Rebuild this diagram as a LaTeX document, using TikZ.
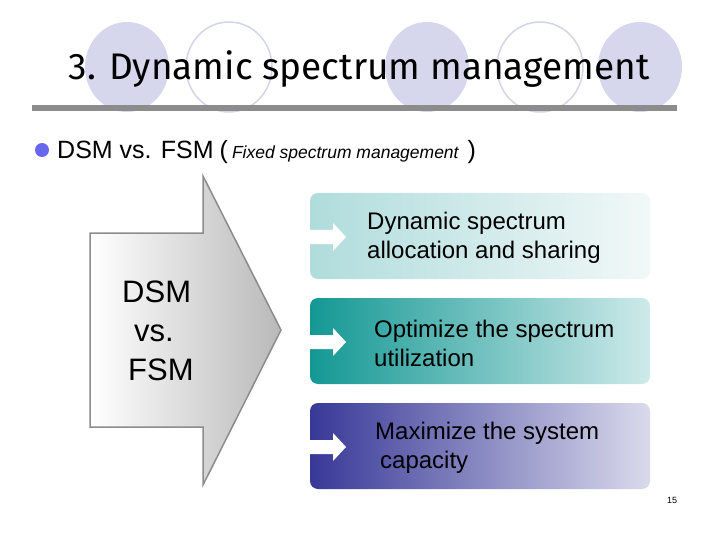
\documentclass[tikz,border=0pt]{standalone}
\usepackage{fontspec}
\setmainfont{Liberation Sans}
\newfontfamily\titlefont{Fira Sans}
\usetikzlibrary{positioning}

\definecolor{lavender}{RGB}{214,214,236}
\definecolor{ringline}{RGB}{212,212,232}
\definecolor{barGray}{RGB}{140,140,140}
\definecolor{bulletBlue}{RGB}{102,102,238}
\definecolor{tealA}{RGB}{176,220,220}
\definecolor{tealB}{RGB}{242,248,248}
\definecolor{tealC}{RGB}{20,152,148}
\definecolor{tealD}{RGB}{206,234,234}
\definecolor{navyA}{RGB}{56,56,152}
\definecolor{navyB}{RGB}{218,218,236}

\tikzset{
  ring/.style={draw=ringline, line width=1.5pt},
  itembox/.style={rounded corners=8pt},
  itemtext/.style={anchor=west, align=left, font=\fontsize{24}{29}\selectfont, inner sep=0pt},
}

\begin{document}
\begin{tikzpicture}[x=1pt,y=-1pt]
  \useasboundingbox (0,0) rectangle (720,540);
  \def\bx{310}
  \def\bw{340}
  \def\bh{86}

  % Title circles
  \foreach \cx in {127,427,640} {
    \fill[lavender] (\cx,67) ellipse (42 and 45);
  }
  \foreach \cx in {229,540} {
    \draw[ring] (\cx,67) ellipse (43 and 45);
  }

  % Title and rule
  \node[font=\titlefont\fontsize{37}{40}\selectfont, anchor=base] (title) at (359,80) {3. Dynamic spectrum management};
  \fill[barGray] (32,105) rectangle (677,111);

  % Bullet line
  \fill[bulletBlue] (42,150) circle (7);
  \node[anchor=base west, font=\fontsize{25}{27}\selectfont, inner sep=0pt] (sub) at (57,159)
    {DSM vs. FSM\hspace{6pt}(\hspace{4pt}{\fontsize{17.5}{18}\selectfont\itshape Fixed spectrum management}\hspace{9pt})};

  % Big arrow
  \shade[left color=white, right color=gray!55, draw=gray!90, line width=1.5pt]
    (90,233) -- (203,233) -- (203,176) -- (281,330) -- (203,485) -- (203,427) -- (90,427) -- cycle;
  \node[align=left, anchor=west, inner sep=0pt, font=\fontsize{31}{39}\selectfont] (dsm) at (122,331)
    {DSM\\\hspace{12pt}vs.\\\hspace{6pt}FSM};

  % Item boxes
  \shade[itembox, left color=tealA, right color=tealB] (\bx,193) rectangle ++(\bw,\bh);
  \shade[itembox, left color=tealC, right color=tealD] (\bx,298) rectangle ++(\bw,\bh);
  \shade[itembox, left color=navyA, right color=navyB] (\bx,403) rectangle ++(\bw,\bh);

  % Small arrows
  \foreach \ay in {237,342,447} {
    \fill[white] (\bx,\ay-7) -- (333,\ay-7) -- (333,\ay-14) -- (346,\ay) -- (333,\ay+14)
      -- (333,\ay+7) -- (\bx,\ay+7) -- cycle;
  }

  % Item texts
  \node[itemtext] (txt1) at (367,238) {Dynamic spectrum\\allocation and sharing};
  \node[itemtext] (txt2) at (374,343) {Optimize the spectrum\\utilization};
  \node[itemtext] (txt3) at (375,448) {Maximize the system\\\hspace{5pt}capacity};

  % Page number
  \node[font=\fontsize{9}{10}\selectfont] (page) at (672,500) {15};
\end{tikzpicture}
\end{document}
